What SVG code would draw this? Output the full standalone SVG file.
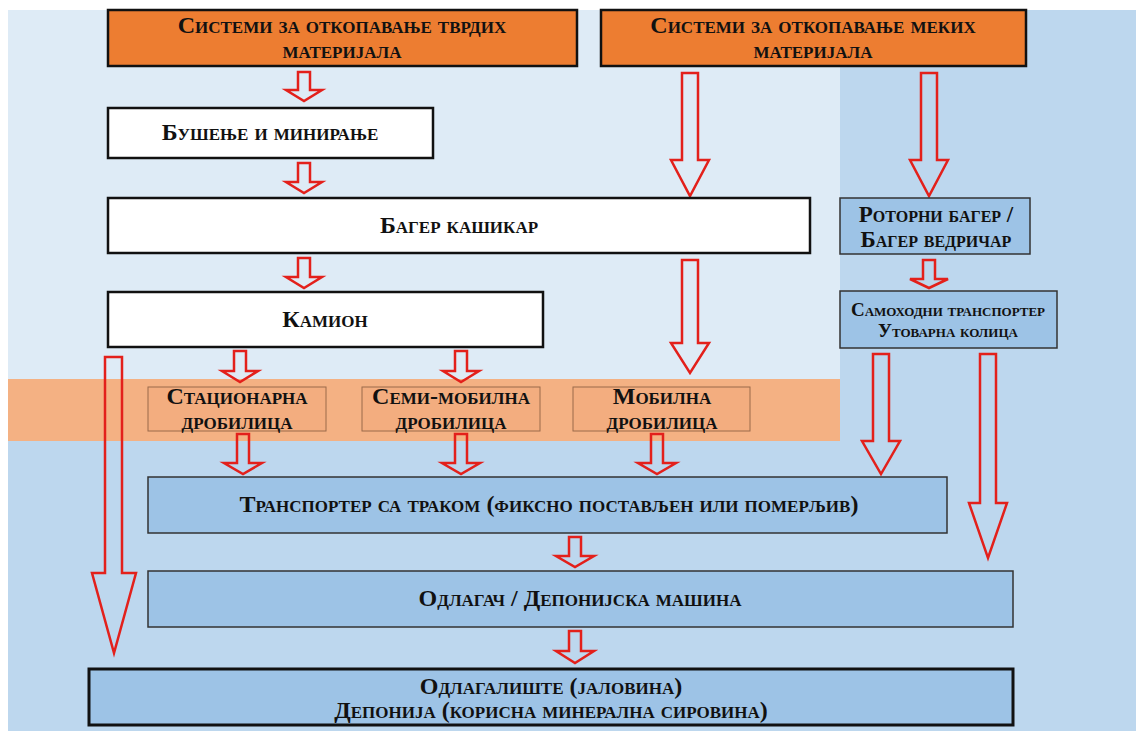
<svg xmlns="http://www.w3.org/2000/svg" width="1136" height="731" viewBox="0 0 1136 731">
<style>
text{font-family:"Liberation Serif","Times New Roman",serif;font-weight:bold;font-variant:small-caps;fill:#111;text-anchor:middle}
.hdr{fill:#ED7D31;stroke:#111;stroke-width:2.5}
.wht{fill:#fff;stroke:#111;stroke-width:2.5}
.blu{fill:#9DC3E6;stroke:#333;stroke-width:1.5}
.blk{fill:#9DC3E6;stroke:#111;stroke-width:3}
.cru{fill:#F3AD7F;stroke:#9A6B4B;stroke-width:1}
.arr{fill:none;stroke:#E3201B;stroke-width:2.5;stroke-linejoin:miter}
.t24{font-size:24px}.t23{font-size:23px}.t19{font-size:19px}
</style>
<g id="background">
<rect x="0" y="0" width="1136" height="731" fill="#fff"/>
<rect x="8" y="10" width="1128" height="721" fill="#BDD7EE"/>
<rect x="8" y="10" width="832" height="369" fill="#DEEBF6"/>
<rect x="8" y="379" width="832" height="62" fill="#F4B183"/>
</g>
<g id="connectors">
<path class="arr" d="M298,72 H310 V90 H322 L304,101 L286,90 H298 Z"/>
<path class="arr" d="M298,163 H310 V182 H322 L304,193 L286,182 H298 Z"/>
<path class="arr" d="M298,258 H310 V277 H322 L304,288 L286,277 H298 Z"/>
<path class="arr" d="M234,351 H246 V371 H258 L240,382 L222,371 H234 Z"/>
<path class="arr" d="M455,351 H467 V371 H479 L461,382 L443,371 H455 Z"/>
<path class="arr" d="M237,434 H249 V463 H262 L243,474 L224,463 H237 Z"/>
<path class="arr" d="M455,434 H467 V463 H480 L461,474 L442,463 H455 Z"/>
<path class="arr" d="M651,434 H663 V463 H676 L657,474 L638,463 H651 Z"/>
<path class="arr" d="M569,537 H581 V556 H594 L575,567 L556,556 H569 Z"/>
<path class="arr" d="M569,631 H581 V651 H594 L575,663 L556,651 H569 Z"/>
<path class="arr" d="M923,260 H935 V279 H948 L929,288 L910,279 H923 Z"/>
<path class="arr" d="M682,73 H698 V160 H709 L690,196 L671,160 H682 Z"/>
<path class="arr" d="M921,73 H937 V160 H948 L929,196 L910,160 H921 Z"/>
<path class="arr" d="M682,260 H698 V343 H709 L690,373 L671,343 H682 Z"/>
<path class="arr" d="M105,357 H122 V573 H136 L114,653 L92,573 H105 Z"/>
<path class="arr" d="M873,354 H889 V441 H900 L881,474 L862,441 H873 Z"/>
<path class="arr" d="M980,354 H996 V503 H1007 L988,558 L969,503 H980 Z"/>
</g>
<g id="n-hard"><rect class="hdr" x="108" y="10" width="469" height="56"/><text class="t24" x="342" y="33">Системи за откопавање тврдих</text><text class="t24" x="342" y="58">материјала</text></g>
<g id="n-soft"><rect class="hdr" x="601" y="10" width="425" height="56"/><text class="t24" x="813" y="33">Системи за откопавање меких</text><text class="t24" x="813" y="58">материјала</text></g>
<g id="n-drill"><rect class="wht" x="108" y="108" width="325" height="50"/><text class="t24" x="270" y="140">Бушење и минирање</text></g>
<g id="n-shovel"><rect class="wht" x="108" y="198" width="702" height="55"/><text class="t24" x="459" y="233">Багер кашикар</text></g>
<g id="n-truck"><rect class="wht" x="108" y="292" width="435" height="55"/><text class="t24" x="325" y="327">Камион</text></g>
<g id="n-bucket"><rect class="blu" x="840" y="198" width="190" height="56"/><text class="t23" x="936" y="222">Роторни багер /</text><text class="t23" x="936" y="247">Багер ведричар</text></g>
<g id="n-mobile-conv"><rect class="blu" x="840" y="291" width="217" height="57"/><text class="t19" x="948" y="316">Самоходни транспортер</text><text class="t19" x="948" y="337">Утоварна колица</text></g>
<g id="n-crush1"><rect class="cru" x="148" y="387" width="178" height="44"/><text class="t24" x="237" y="404">Стационарна</text><text class="t24" x="237" y="429">дробилица</text></g>
<g id="n-crush2"><rect class="cru" x="362" y="387" width="178" height="44"/><text class="t24" x="451" y="404">Семи-мобилна</text><text class="t24" x="451" y="429">дробилица</text></g>
<g id="n-crush3"><rect class="cru" x="573" y="387" width="177" height="44"/><text class="t24" x="662" y="404">Мобилна</text><text class="t24" x="662" y="429">дробилица</text></g>
<g id="n-belt"><rect class="blu" x="148" y="477" width="799" height="56"/><text class="t24" x="549" y="512">Транспортер са траком (фиксно постављен или померљив)</text></g>
<g id="n-spreader"><rect class="blu" x="148" y="571" width="865" height="56"/><text class="t24" x="580" y="606">Одлагач / Депонијска машина</text></g>
<g id="n-dump"><rect class="blk" x="89" y="669" width="924" height="56"/><text class="t24" x="551" y="694">Одлагалиште (јаловина)</text><text class="t24" x="551" y="718">Депонија (корисна минерална сировина)</text></g>
</svg>
